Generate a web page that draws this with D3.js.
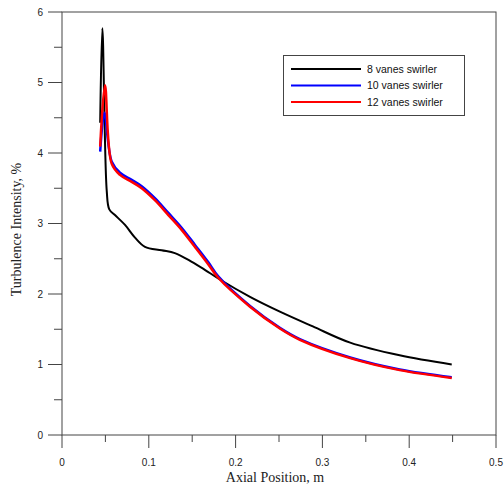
<!DOCTYPE html>
<html>
<head>
<meta charset="utf-8">
<script src="https://cdn.jsdelivr.net/npm/d3@7"></script>
<style>
  body { margin: 0; background: #fff; }
  .tick-label { font-family: "Liberation Sans", Arial, sans-serif; font-size: 10px; fill: #222; }
  .axis-title { font-family: "Liberation Serif", "Times New Roman", serif; font-size: 14px; fill: #222; }
  .legend text { font-family: "Liberation Sans", Arial, sans-serif; font-size: 10.5px; fill: #111; }
</style>
</head>
<body>
<svg id="chart" width="504" height="486"></svg>
<script>
// values
var xTicks = [0, 0.1, 0.2, 0.3, 0.4, 0.5];
var yTicks = [0, 1, 2, 3, 4, 5, 6];

var vanes8X = [0.044, 0.0465, 0.0515, 0.0545, 0.061, 0.0726, 0.0841, 0.0956, 0.1148, 0.130, 0.149, 0.165, 0.180, 0.2166, 0.251, 0.289, 0.332, 0.389, 0.449];
var vanes8Y = [4.43, 5.77, 3.47, 3.20, 3.12, 2.98, 2.80, 2.67, 2.62, 2.58, 2.46, 2.34, 2.22, 1.96, 1.75, 1.54, 1.31, 1.13, 1.0];

var vanes10X = [0.044, 0.0488, 0.0572, 0.0668, 0.0803, 0.0918, 0.107, 0.1225, 0.1378, 0.153, 0.1686, 0.180, 0.2166, 0.251, 0.274, 0.332, 0.389, 0.449];
var vanes10Y = [4.02, 4.57, 3.88, 3.72, 3.62, 3.53, 3.36, 3.15, 2.94, 2.70, 2.45, 2.25, 1.83, 1.52, 1.36, 1.10, 0.93, 0.82];

var vanes12X = [0.044, 0.0495, 0.0572, 0.0668, 0.0803, 0.0918, 0.107, 0.1225, 0.1378, 0.153, 0.1686, 0.180, 0.2166, 0.251, 0.274, 0.332, 0.389, 0.449];
var vanes12Y = [4.09, 4.96, 3.85, 3.69, 3.59, 3.50, 3.33, 3.12, 2.91, 2.67, 2.42, 2.23, 1.82, 1.51, 1.35, 1.09, 0.92, 0.81];

var seriesNames = ["8 vanes swirler", "10 vanes swirler", "12 vanes swirler"];
var seriesColors = ["#000000", "#0000ff", "#ff0000"];

var svg = d3.select("#chart");
var plotLeft = 62, plotRight = 496, plotTop = 12, plotBottom = 435;
var axisColor = "#444";

var x = d3.scaleLinear().domain([0, 0.5]).range([plotLeft, plotRight]);
var y = d3.scaleLinear().domain([0, 6]).range([plotBottom, plotTop]);

// frame
svg.append("rect")
    .attr("x", plotLeft).attr("y", plotTop)
    .attr("width", plotRight - plotLeft).attr("height", plotBottom - plotTop)
    .attr("fill", "none").attr("stroke", axisColor).attr("stroke-width", 1);

// bottom axis: major + minor ticks hanging down
var xAxis = svg.append("g").attr("transform", "translate(0," + plotBottom + ")");
xAxis.selectAll(".major").data(xTicks).enter().append("line")
    .attr("x1", function(d) { return x(d); }).attr("x2", function(d) { return x(d); })
    .attr("y1", 0).attr("y2", 13)
    .attr("stroke", axisColor);
xAxis.selectAll(".minor").data(d3.range(0.05, 0.5, 0.1)).enter().append("line")
    .attr("x1", function(d) { return x(d); }).attr("x2", function(d) { return x(d); })
    .attr("y1", 0).attr("y2", 7)
    .attr("stroke", axisColor);
xAxis.selectAll("text").data(xTicks).enter().append("text")
    .attr("class", "tick-label")
    .attr("x", function(d) { return x(d); })
    .attr("y", 31)
    .attr("text-anchor", "middle")
    .text(function(d) { return d3.format("")(d); });

// left axis
var yAxis = svg.append("g").attr("transform", "translate(" + plotLeft + ",0)");
yAxis.selectAll(".major").data(yTicks).enter().append("line")
    .attr("x1", -14).attr("x2", 0)
    .attr("y1", function(d) { return y(d); }).attr("y2", function(d) { return y(d); })
    .attr("stroke", axisColor);
yAxis.selectAll(".minor").data(d3.range(0.5, 6, 1)).enter().append("line")
    .attr("x1", -8).attr("x2", 0)
    .attr("y1", function(d) { return y(d); }).attr("y2", function(d) { return y(d); })
    .attr("stroke", axisColor);
yAxis.selectAll("text").data(yTicks).enter().append("text")
    .attr("class", "tick-label")
    .attr("x", -19)
    .attr("y", function(d) { return y(d); })
    .attr("dy", "0.35em")
    .attr("text-anchor", "end")
    .text(function(d) { return d; });

// titles
svg.append("text").attr("class", "axis-title")
    .attr("x", (plotLeft + plotRight) / 2 - 4).attr("y", 482)
    .attr("text-anchor", "middle")
    .text("Axial Position, m");
svg.append("text").attr("class", "axis-title")
    .attr("transform", "translate(21," + ((plotTop + plotBottom) / 2 + 6) + ") rotate(-90)")
    .attr("text-anchor", "middle")
    .text("Turbulence Intensity, %");

// curves
var line = d3.line()
    .x(function(d) { return x(d[0]); })
    .y(function(d) { return y(d[1]); })
    .curve(d3.curveCatmullRom.alpha(0.5));

var series = [
    { xs: vanes8X, ys: vanes8Y, width: 2 },
    { xs: vanes10X, ys: vanes10Y, width: 2.5 },
    { xs: vanes12X, ys: vanes12Y, width: 2.5 }
];
series.forEach(function(s, i) {
    svg.append("path")
        .datum(d3.zip(s.xs, s.ys))
        .attr("d", line)
        .attr("fill", "none")
        .attr("stroke", seriesColors[i])
        .attr("stroke-width", s.width)
        .attr("stroke-linejoin", "round");
});

// legend
var legend = svg.append("g").attr("class", "legend");
legend.append("rect")
    .attr("x", 283.5).attr("y", 55.5)
    .attr("width", 181).attr("height", 60)
    .attr("fill", "#fff").attr("stroke", axisColor);
var rows = legend.selectAll(".row").data(seriesNames).enter().append("g")
    .attr("transform", function(d, i) { return "translate(0," + (69 + i * 16.5) + ")"; });
rows.append("line")
    .attr("x1", 291).attr("x2", 361)
    .attr("y1", 0).attr("y2", 0)
    .attr("stroke", function(d, i) { return seriesColors[i]; })
    .attr("stroke-width", 2);
rows.append("text")
    .attr("x", 367).attr("dy", "0.35em")
    .text(function(d) { return d; });
</script>
</body>
</html>
